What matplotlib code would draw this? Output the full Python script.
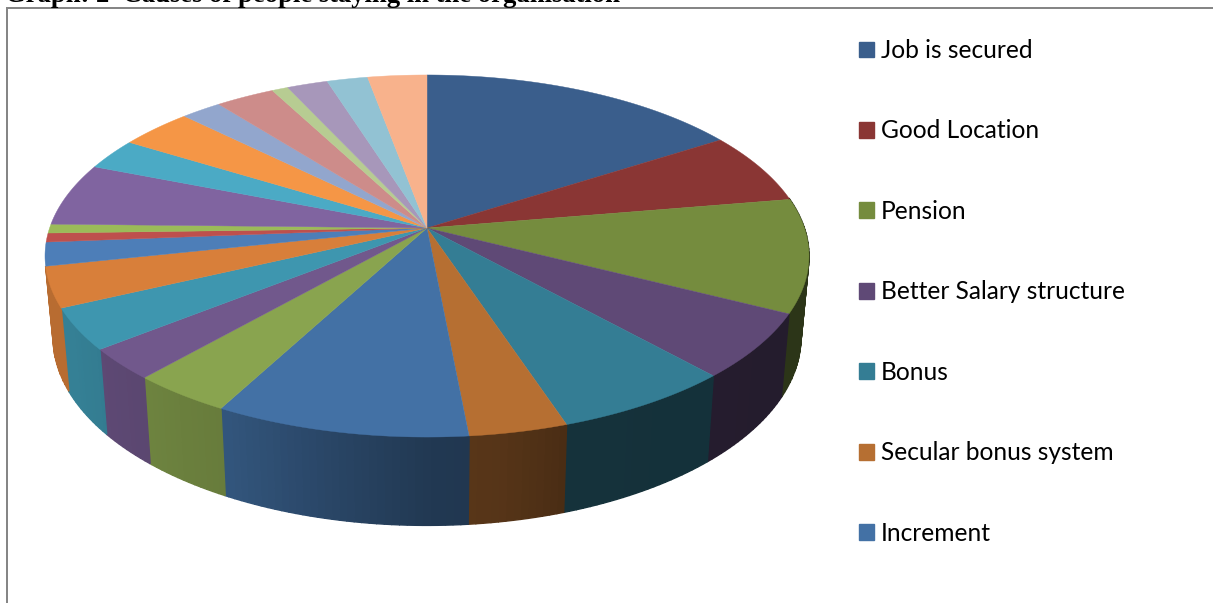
import numpy as np
import matplotlib
matplotlib.use('Agg')
import matplotlib.pyplot as plt
from matplotlib.patches import Patch

# shares of the answers, clockwise from twelve o'clock
shares = [15.9, 6.4, 10.1, 5.8, 6.6, 3.6, 9.3, 3.7, 2.8, 3.7, 3.6, 2.1,
          0.8, 0.8, 5.6, 2.8, 3.6, 2.0, 2.9, 0.8, 2.0, 2.0, 2.9]
colors = ['#3A5E8C', '#8A3634', '#758C3E', '#5F4976', '#347D94', '#B66F32',
          '#4371A5', '#89A44F', '#71588C', '#3E96AF', '#D87F3A', '#4D7EB8',
          '#BE504D', '#9BBB59', '#8064A0', '#4BAAC5', '#F59646', '#92A6CD',
          '#CD8C8A', '#B7CC92', '#A797BA', '#92C2D3', '#F8B28C']
labels = ['Job is secured', 'Good Location', 'Pension', 'Better Salary structure',
          'Bonus', 'Secular bonus system', 'Increment']
title = 'Graph: 2  Causes of people staying in the organisation'

# side wall brightness against the angle round the pie
shade_deg = [80, 120, 161, 170, 180, 207, 221, 240, 280]
shade_val = [.38, .38, .40, .47, .50, .75, .80, .85, .85]

# perspective of the tilted disc
CX, CY = 427, 228
A, B, K = 377.4, 176.7, .1547
LAST_WALL = 10  # slices after this one have no visible side


def top_ring(deg):
    t = np.radians(deg)
    u, v = np.sin(t), np.cos(t)
    w = 1 + K * v
    return CX + A * u / w, CY - B * v / w


def bottom_ring(deg):
    x, y = top_ring(deg)
    return CX + .979 * (x - CX), 308 + 1.04 * (y - CY)


fig = plt.figure(figsize=(12.13, 6.03), dpi=100)
ax = fig.add_axes((0, 0, 1, 1))
ax.set_xlim(0, 1213)
ax.set_ylim(603, 0)
ax.axis('off')

edges = np.concatenate([[0], np.cumsum(shares)]) / sum(shares) * 360

# side wall first, the disc goes over it
for i, c in enumerate(colors[:LAST_WALL + 1]):
    rgb = np.array(matplotlib.colors.to_rgb(c))
    a = max(edges[i], 80)
    b = edges[i + 1]
    if b <= a:
        continue
    steps = np.append(np.arange(a, b, 1.0), b)
    for d0, d1 in zip(steps[:-1], steps[1:]):
        x0, y0 = top_ring(np.array([d0, d1]))
        x1, y1 = bottom_ring(np.array([d1, d0]))
        shade = np.interp((d0 + d1) / 2, shade_deg, shade_val)
        ax.fill(np.r_[x0, x1], np.r_[y0, y1], color=rgb * shade, lw=1, zorder=2)

for i, c in enumerate(colors):
    arc = np.linspace(edges[i], edges[i + 1], max(int(edges[i + 1] - edges[i]) * 2, 4))
    x, y = top_ring(arc)
    ax.fill(np.r_[CX, x], np.r_[CY, y], color=c, lw=.3, zorder=3)

# chart frame
ax.plot([7, 7], [603, 7], color='#868686', lw=1.44, zorder=1, solid_capstyle='butt')
ax.plot([6, 1213], [8, 8], color='#868686', lw=1.44, zorder=1, solid_capstyle='butt')

ax.text(5, 1.5, title, family='Liberation Serif', weight='bold', fontsize=19.2,
        va='baseline', ha='left', color='black', clip_on=False)

handles = [Patch(color=c) for c in colors[:len(labels)]]
ax.legend(handles, labels, loc='upper left', bbox_to_anchor=(859 / 1213, 1 - 39 / 603),
          frameon=False, prop={'family': 'Lato', 'size': 17.65},
          handlelength=.61, handleheight=.61, handletextpad=.29,
          labelspacing=2.345, borderaxespad=0, borderpad=0)

fig.savefig('out.png', dpi=100)
